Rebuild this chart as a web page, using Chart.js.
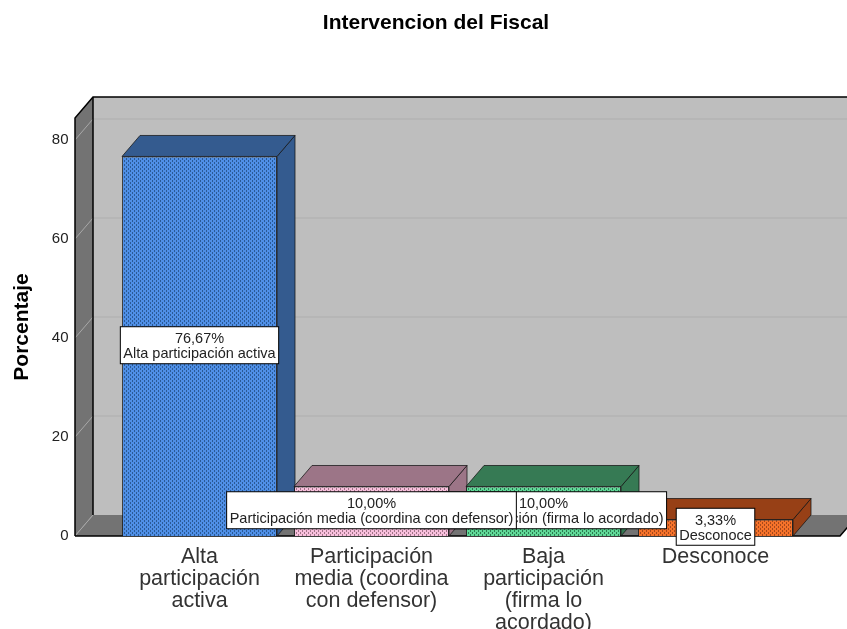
<!DOCTYPE html>
<html><head><meta charset="utf-8">
<style>html,body{margin:0;padding:0;background:#fff}#w{width:847px;height:629px}</style>
<script src="https://cdn.jsdelivr.net/npm/chart.js@4"></script></head>
<body><div id="w"><canvas id="c" width="847" height="629"></canvas></div>
<script>
const chartTitle = 'Intervencion del Fiscal';
const yAxisTitle = 'Porcentaje';
const categories = [['Alta','participación','activa'],['Participación','media (coordina','con defensor)'],['Baja','participación','(firma lo','acordado)'],['Desconoce']];
const dataLabels = ['Alta participación activa','Participación media (coordina con defensor)','Baja participación (firma lo acordado)','Desconoce'];
const percentages = [76.67,10,10,3.33];
const tickValues = [0,20,40,60,80];
const frontColors = ['#4f8fe6','#f8bfdc','#5fd897','#f5722a'];
const dotColors = ['#2a5a96','#a07488','#2c7a50','#a5481c'];
const sideColors = ['#345b8f','#9c7587','#367a54','#974016'];
const DX = 18, DY = 21;
const FONT = '"Liberation Sans", Arial, sans-serif';

function pattern(bg, dot){
  const p = document.createElement('canvas'); p.width = 4; p.height = 4;
  const g = p.getContext('2d');
  g.fillStyle = bg; g.fillRect(0,0,4,4);
  g.fillStyle = dot; g.fillRect(0,0,1,2); g.fillRect(2,2,1,2);
  return document.createElement('canvas').getContext('2d').createPattern(p,'repeat');
}
function poly(ctx, pts, fill, stroke){
  ctx.beginPath();
  pts.forEach((q,i)=> i ? ctx.lineTo(q[0],q[1]) : ctx.moveTo(q[0],q[1]));
  ctx.closePath();
  if(fill){ctx.fillStyle=fill;ctx.fill();}
  if(stroke){ctx.strokeStyle=stroke;ctx.lineWidth=1;ctx.stroke();}
}
const box3d = {
  id:'box3d',
  beforeDatasetsDraw(chart){
    const {ctx,chartArea:a,scales:{y}} = chart;
    const fl = 75, fr = 840, by = a.bottom, ty = a.top;
    ctx.save();
    poly(ctx,[[fl+DX,ty-DY],[fr+DX,ty-DY],[fr+DX,by-DY],[fl+DX,by-DY]],'#bebebe');
    poly(ctx,[[fl,ty],[fl+DX,ty-DY],[fl+DX,by-DY],[fl,by]],'#737373');
    poly(ctx,[[fl,by],[fl+DX,by-DY],[fr+DX,by-DY],[fr,by]],'#737373');
    y.ticks.forEach(t=>{
      if(!t.value) return;
      const p = y.getPixelForValue(t.value);
      ctx.lineWidth=1.5;
      ctx.strokeStyle='#b3b3b3';ctx.beginPath();ctx.moveTo(fl+DX,p-DY);ctx.lineTo(fr+DX,p-DY);ctx.stroke();
      ctx.lineWidth=1;
      ctx.strokeStyle='#a8a8a8';ctx.beginPath();ctx.moveTo(fl,p);ctx.lineTo(fl+DX,p-DY);ctx.stroke();
    });
    ctx.strokeStyle='#a8a8a8';ctx.lineWidth=1;ctx.beginPath();ctx.moveTo(fl,by);ctx.lineTo(fl+DX,by-DY);ctx.stroke();
    ctx.strokeStyle='#000';ctx.lineWidth=1.5;
    ctx.beginPath();ctx.moveTo(fl,by);ctx.lineTo(fl,ty);ctx.lineTo(fl+DX,ty-DY);ctx.lineTo(fr+DX,ty-DY);ctx.stroke();
    ctx.beginPath();ctx.moveTo(fl+DX,ty-DY);ctx.lineTo(fl+DX,by-DY);ctx.stroke();
    ctx.beginPath();ctx.moveTo(fl,by);ctx.lineTo(fr,by);ctx.lineTo(fr+DX,by-DY);ctx.stroke();
    chart.getDatasetMeta(0).data.forEach((b,i)=>{
      const l=b.x-b.width/2, r=b.x+b.width/2, t=b.y, bb=b.base, s=sideColors[i], k='rgba(20,20,20,.75)';
      poly(ctx,[[r,t],[r+DX,t-DY],[r+DX,bb-DY],[r,bb]],s,k);
      poly(ctx,[[l,t],[l+DX,t-DY],[r+DX,t-DY],[r,t]],s,k);
    });
    ctx.restore();
  },
  afterDatasetsDraw(chart){
    const {ctx} = chart;
    const bars = chart.getDatasetMeta(0).data;
    ctx.save();
    ctx.font = '14.5px '+FONT;
    ctx.textAlign='center'; ctx.textBaseline='middle';
    [0,2,1,3].forEach(i=>{
      const b=bars[i], cy=(b.y+b.base)/2-1;
      const pct=percentages[i].toFixed(2).replace('.',',')+'%';
      const w=ctx.measureText(dataLabels[i]).width+6, h=37;
      ctx.fillStyle='#fff';ctx.fillRect(b.x-w/2,cy-h/2,w,h);
      ctx.strokeStyle='#000';ctx.lineWidth=1;ctx.strokeRect(b.x-w/2,cy-h/2,w,h);
      ctx.fillStyle='#222';
      ctx.fillText(pct,b.x,cy-6);
      ctx.fillText(dataLabels[i],b.x,cy+9);
    });
    ctx.restore();
  }
};
new Chart(document.getElementById('c'),{
  type:'bar',
  data:{labels:categories,datasets:[{
    data:percentages,
    backgroundColor:frontColors.map((c,i)=>pattern(c,dotColors[i])),
    borderColor:'rgba(20,20,20,.75)',borderWidth:1,
    barPercentage:155/172,categoryPercentage:1
  }]},
  options:{
    responsive:false,animation:false,
    layout:{padding:{left:25,right:0,top:0,bottom:0}},
    plugins:{
      legend:{display:false},tooltip:{enabled:false},
      title:{display:true,text:chartTitle,color:'#000',
        font:{family:FONT,size:21,weight:'bold',lineHeight:1.2},
        padding:{top:10.5,bottom:82.3}}
    },
    scales:{
      x:{
        grid:{display:false},border:{display:false},
        afterFit(s){s.height=93;},
        ticks:{maxRotation:0,minRotation:0,autoSkip:false,padding:2,color:'#333',
          font:{family:FONT,size:21.5,lineHeight:1.02}}
      },
      y:{
        min:0,max:84.44,
        afterFit(s){s.width=88.5;},
        afterBuildTicks(s){s.ticks=tickValues.map(v=>({value:v}));},
        grid:{display:false},border:{display:false},
        ticks:{padding:37,color:'#222',font:{family:FONT,size:15}},
        title:{display:true,text:yAxisTitle,color:'#000',
          font:{family:FONT,size:21,weight:'bold',lineHeight:1.2},
          padding:{top:-15,bottom:0}}
      },
      rightGutter:{
        axis:'y',position:'right',
        afterFit(s){s.width=45.5;},
        grid:{display:false},border:{display:false},ticks:{display:false}
      }
    }
  },
  plugins:[box3d]
});
</script></body></html>
